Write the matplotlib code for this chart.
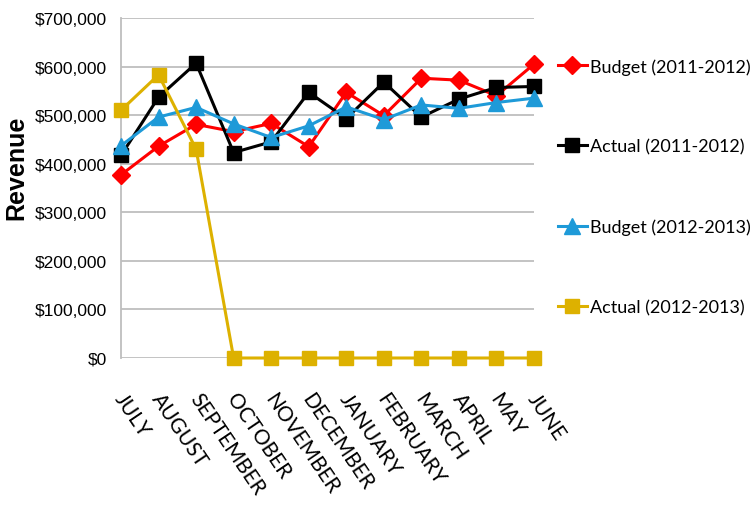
import matplotlib
matplotlib.use("Agg")
import matplotlib.pyplot as plt
import matplotlib.transforms as mtransforms
from matplotlib.ticker import FuncFormatter, MultipleLocator

months = ["JULY", "AUGUST", "SEPTEMBER", "OCTOBER", "NOVEMBER", "DECEMBER",
          "JANUARY", "FEBRUARY", "MARCH", "APRIL", "MAY", "JUNE"]
budget_1112 = [377000, 436000, 481000, 466000, 483000, 435000,
               547000, 499000, 576000, 572000, 540000, 605000]
actual_1112 = [417000, 537000, 607000, 423000, 445000, 547000,
               493000, 568000, 496000, 533000, 557000, 559000]
budget_1213 = [437000, 496000, 516000, 482000, 454000, 478000,
               517000, 491000, 521000, 514000, 526000, 535000]
actual_1213 = [510000, 583000, 430000, 0, 0, 0, 0, 0, 0, 0, 0, 0]
labels = ["Budget (2011-2012)", "Actual (2011-2012)",
          "Budget (2012-2013)", "Actual (2012-2013)"]

plt.rcParams['font.family'] = ['Lato', 'DejaVu Sans']

fig = plt.figure(figsize=(7.52, 5.06), dpi=100)
ax = fig.add_axes([121/752, 1-359/506, (534-121)/752, (359-19)/506])

x = list(range(len(months)))
series = [
    (budget_1112, "#FF0000", "D", 9),
    (actual_1112, "#000000", "s", 10),
    (budget_1213, "#1E9AD8", "^", 11),
    (actual_1213, "#DDB100", "s", 10),
]
for (vals, col, mk, ms), lab in zip(series, labels):
    ax.plot(x, vals, color=col, marker=mk, markersize=ms, linewidth=2.2,
            label=lab, clip_on=False, zorder=3)

ax.set_xlim(0, len(months) - 1)
ax.set_ylim(0, 700000)
ax.yaxis.set_major_locator(MultipleLocator(100000))
ax.yaxis.set_major_formatter(FuncFormatter(lambda v, p: "${:,.0f}".format(v)))
ax.grid(axis='y', color='#BEBEBE', linewidth=1.3)
ax.set_axisbelow(True)
for s in ['top', 'right', 'bottom']:
    ax.spines[s].set_visible(False)
ax.spines['left'].set_color('#BEBEBE')
ax.spines['left'].set_linewidth(1.3)
ax.tick_params(axis='y', length=0, pad=10)
for t in ax.get_yticklabels():
    t.set_fontfamily(['Liberation Sans', 'DejaVu Sans'])
    t.set_fontsize(12.5)
ax.set_xticks(x)
ax.set_xticklabels(months, rotation=-56, ha='left', va='top',
                   rotation_mode='anchor', fontsize=15)
ax.tick_params(axis='x', length=0, pad=22)
offset = mtransforms.ScaledTranslation(6/100, 0, fig.dpi_scale_trans)
for t in ax.get_xticklabels():
    t.set_transform(t.get_transform() + offset)
fig.text(16/752, 1-168/506, "Revenue", rotation=90, ha='center', va='center',
         fontsize=18, fontweight='bold', family=['Liberation Sans', 'DejaVu Sans'])

fig.legend(loc='upper left', bbox_to_anchor=(558/752, 1-59/506), frameon=False,
           fontsize=13, labelspacing=3.55, handlelength=1.6, handletextpad=0.15,
           borderaxespad=0, borderpad=0)

fig.savefig("out.png", dpi=100)
